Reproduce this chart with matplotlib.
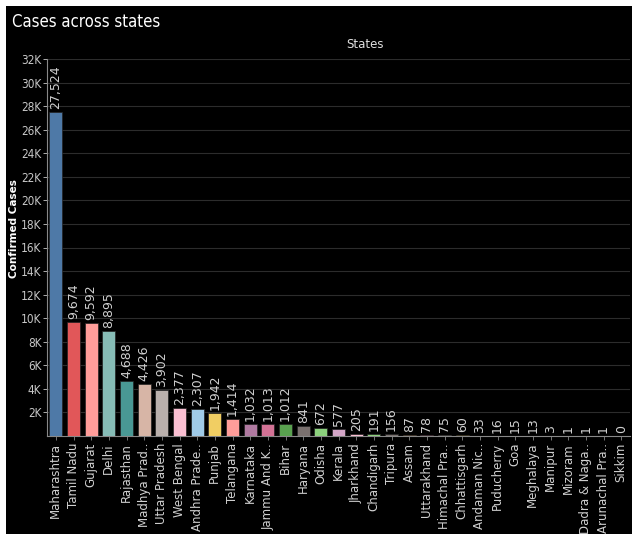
import numpy as np
import matplotlib
matplotlib.use("Agg")
import matplotlib.pyplot as plt
from matplotlib.patches import Rectangle
from matplotlib.ticker import FuncFormatter

states = ["Maharashtra", "Tamil Nadu", "Gujarat", "Delhi", "Rajasthan",
          "Madhya Prad..", "Uttar Pradesh", "West Bengal", "Andhra Prade..",
          "Punjab", "Telangana", "Karnataka", "Jammu And K..", "Bihar",
          "Haryana", "Odisha", "Kerala", "Jharkhand", "Chandigarh", "Tripura",
          "Assam", "Uttarakhand", "Himachal Pra..", "Chhattisgarh",
          "Andaman Nic..", "Puducherry", "Goa", "Meghalaya", "Manipur",
          "Mizoram", "Dadra & Naga..", "Arunachal Pra..", "Sikkim"]
cases = [27524, 9674, 9592, 8895, 4688, 4426, 3902, 2377, 2307, 1942, 1414,
         1032, 1013, 1012, 841, 672, 577, 205, 191, 156, 87, 78, 75, 60, 33,
         16, 15, 13, 3, 1, 1, 1, 0]
colors = ["#4E79A7", "#E15759", "#FF9D9A", "#86BCB6", "#499894", "#D7B5A6",
          "#BAB0AC", "#FABFD2", "#A0CBE8", "#F1CE63", "#FF9D9A", "#B07AA1",
          "#D37295", "#59A14F", "#79706E", "#8CD17D", "#D4A6C8", "#FABFD2",
          "#8CD17D", "#79706E", "#FFBE7D", "#D37295", "#BAB0AC", "#B6992D",
          "#4E79A7", "#A0CBE8", "#F28E2B", "#59A14F", "#499894", "#E15759",
          "#9D7660", "#F1CE63", "#86BCB6"]

fig = plt.figure(figsize=(6.32, 5.34), dpi=100, facecolor="white")
fig.patches.append(Rectangle((6 / 632, 0), 1, 1 - 6 / 534, transform=fig.transFigure,
                             facecolor="black", edgecolor="none", zorder=-10))

ax = fig.add_axes([47 / 632, (534 - 436) / 534, 583 / 632, 377 / 534])
ax.set_facecolor("black")

x = np.arange(len(states))
ax.bar(x, cases, width=0.75, color=colors, edgecolor="#222222", linewidth=0.5, zorder=3)

for xi, v in zip(x, cases):
    ax.text(xi, v + 250, f"{v:,}", rotation=90, ha="center", va="bottom",
            color="#d0d0d0", fontsize=9, zorder=4)

ax.set_xlim(-0.5, len(states) - 0.5)
ax.set_ylim(0, 32000)
ax.set_yticks(np.arange(2000, 32001, 2000))
ax.yaxis.set_major_formatter(FuncFormatter(lambda v, p: f"{int(v / 1000)}K"))
ax.set_xticks(x)
ax.set_xticklabels(states, rotation=90, fontsize=8.5, color="#d0d0d0")
ax.tick_params(axis="y", colors="#c8c8c8", labelsize=8.5, length=3, width=0.6, pad=1)
for lab in ax.get_yticklabels():
    lab.set_fontstretch("condensed")
ax.tick_params(axis="x", colors="#888888", labelcolor="#d0d0d0", length=3, width=0.6, pad=2)
ax.grid(axis="y", color="#2c2c2c", linewidth=0.8, zorder=0)

for s in ["top", "right"]:
    ax.spines[s].set_visible(False)
ax.spines["left"].set_color("#888888")
ax.spines["bottom"].set_color("#888888")
ax.spines["left"].set_linewidth(0.8)
ax.spines["bottom"].set_linewidth(0.8)

ax.set_ylabel("Confirmed Cases", color="white", fontsize=7.5, fontweight="bold")
ax.yaxis.set_label_coords(-0.048, 0.55)

fig.text(12 / 632, 1 - 22 / 534, "Cases across states", color="white", fontsize=12,
         ha="left", va="center", fontstretch="condensed")
fig.text(365 / 632, 1 - 45 / 534, "States", color="#e0e0e0", fontsize=8.5,
         ha="center", va="center")

fig.savefig("out.png", dpi=100, facecolor=fig.get_facecolor())
